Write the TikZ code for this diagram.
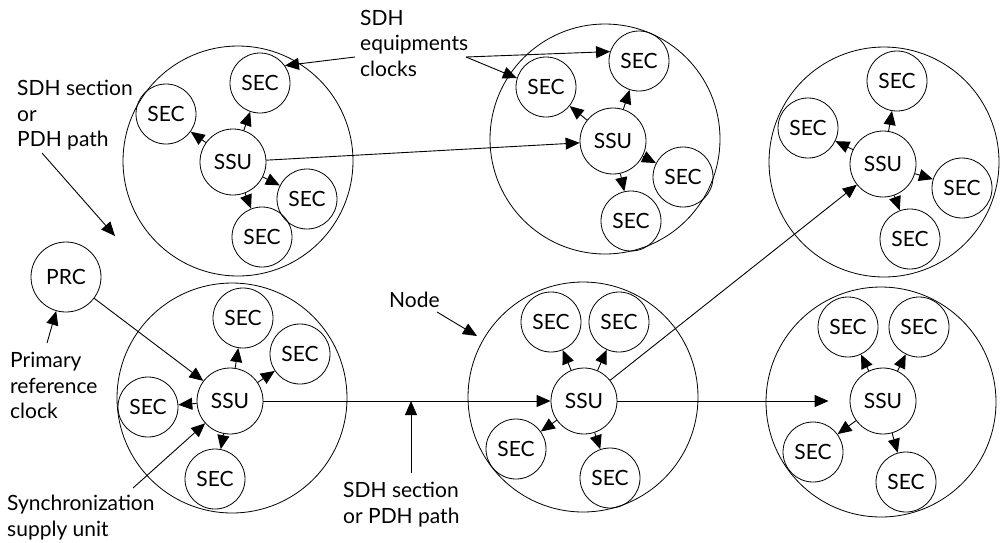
\documentclass[tikz,border=0pt]{standalone}
\usepackage{fontspec}
\setmainfont{Lato}
\usetikzlibrary{arrows.meta}
\begin{document}
\begin{tikzpicture}[x=1pt,y=-1pt,
 every node/.style={font=\fontsize{21}{25.5}\selectfont},
 big/.style={circle,draw,line width=0.8pt,minimum size=230pt,inner sep=0pt},
 sec/.style={circle,draw,line width=0.8pt,minimum size=60pt,inner sep=0pt},
 ssu/.style={circle,draw,line width=0.8pt,minimum size=66pt,inner sep=0pt},
 prcs/.style={circle,draw,line width=0.8pt,minimum size=70pt,inner sep=0pt},
 arr/.style={line width=0.9pt,-{Triangle[length=14pt,width=12pt]}},
 lbl/.style={align=left,anchor=north west,inner sep=0pt}]
\useasboundingbox (0,0) rectangle (1000,542);

% node 1 (top left)
\node[big] (n1) at (238,161) {};
\node[ssu] (ssu1) at (233,162) {SSU};
\node[sec] (s1a) at (260,83) {SEC};
\node[sec] (s1b) at (166,114) {SEC};
\node[sec] (s1c) at (307,199) {SEC};
\node[sec] (s1d) at (262,237) {SEC};
% node 2 (top middle)
\node[big] (n2) at (605,139) {};
\node[ssu] (ssu2) at (613,141) {SSU};
\node[sec] (s2a) at (639,61) {SEC};
\node[sec] (s2b) at (546,87) {SEC};
\node[sec] (s2c) at (683,177) {SEC};
\node[sec] (s2d) at (631,221) {SEC};
% node 3 (top right)
\node[big] (n3) at (884,162) {};
\node[ssu] (ssu3) at (883,164) {SSU};
\node[sec] (s3a) at (897,81) {SEC};
\node[sec] (s3b) at (808,128) {SEC};
\node[sec] (s3c) at (962,188) {SEC};
\node[sec] (s3d) at (910,239) {SEC};
% node 4 (bottom left)
\node[big] (n4) at (232,398) {};
\node[ssu] (ssu4) at (230,401) {SSU};
\node[sec] (s4a) at (243,318) {SEC};
\node[sec] (s4b) at (300,354) {SEC};
\node[sec] (s4c) at (148,407) {SEC};
\node[sec] (s4d) at (215,479) {SEC};
\node[prcs] (prc) at (66,277) {PRC};
% node 5 (bottom middle)
\node[big] (n5) at (583,397) {};
\node[ssu] (ssu5) at (584,401) {SSU};
\node[sec] (s5a) at (551,322) {SEC};
\node[sec] (s5b) at (619,322) {SEC};
\node[sec] (s5c) at (516,449) {SEC};
\node[sec] (s5d) at (610,478) {SEC};
% node 6 (bottom right)
\node[big] (n6) at (881,402) {};
\node[ssu] (ssu6) at (883,401) {SSU};
\node[sec] (s6a) at (848,327) {SEC};
\node[sec] (s6b) at (919,327) {SEC};
\node[sec] (s6c) at (813,452) {SEC};
\node[sec] (s6d) at (906,482) {SEC};

% internal arrows
\foreach \i in {1,...,6}{
  \foreach \j in {a,b,c,d}{
    \draw[arr] (ssu\i) -- (s\i\j);
  }
}

% links
\draw[arr] (ssu1) -- (ssu2);
\draw[arr] (prc) -- (ssu4);
\draw[arr] (ssu4) -- (ssu5);
\draw[arr] (ssu5) -- (ssu3);
\draw[arr,shorten >=21pt] (ssu5) -- (ssu6);

% labels
\node[lbl] (l1) at (17,80) {SDH section\\or\\PDH path};
\coordinate (l1s) at (42,153);
\coordinate (l1e) at (115,236);
\draw[arr] (l1s) -- (l1e);

\node[lbl] (l2) at (360,10) {SDH\\equipments\\clocks};
\coordinate (l2a) at (355,57);
\coordinate (l2b) at (466,57);
\draw[arr] (l2a) -- (s1a.35);
\draw[arr] (l2b) -- (s2a.162);
\draw[arr] (l2b) -- (s2b.163);

\node[lbl] (l3) at (10,352) {Primary\\reference\\clock};
\coordinate (l3a) at (47,343);
\draw[arr] (l3a) -- (prc);

\node[lbl] (l4) at (7,495) {Synchronization\\supply unit};
\coordinate (l4a) at (133,488);
\draw[arr] (l4a) -- (ssu4);

\node[lbl] (l5) at (389,292) {Node};
\coordinate (l5a) at (437,312);
\coordinate (l5b) at (477,336);
\draw[arr] (l5a) -- (l5b);

\node[lbl] (l6) at (343,482) {SDH section\\or PDH path};
\coordinate (l6a) at (411,473);
\coordinate (l6b) at (411,401);
\draw[arr] (l6a) -- (l6b);
\end{tikzpicture}
\end{document}
